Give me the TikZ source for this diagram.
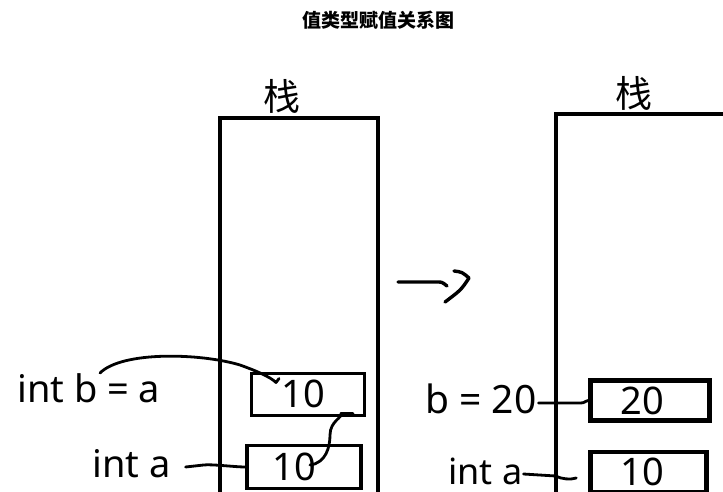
\documentclass[tikz,border=0pt]{standalone}
\usepackage{fontspec}
\setmainfont{Noto Sans}
\newfontfamily\cjk{Noto Sans CJK SC}
\begin{document}
\begin{tikzpicture}[x=1pt,y=-1pt,
  stackline/.style={line width=3.8pt},
  cell/.style={draw, line width=3.8pt, inner sep=0pt, text depth=0pt, font=\fontsize{38}{40}\selectfont},
  lbl/.style={inner sep=0pt, text depth=0pt, anchor=base west, font=\fontsize{38}{40}\selectfont},
  stacklbl/.style={inner sep=0pt, font=\cjk\fontsize{37}{40}\selectfont},
  hand/.style={line width=2.8pt, line cap=round, line join=round}]
\useasboundingbox (0,0) rectangle (723,492);
% title
\node[inner sep=0pt, font=\cjk\bfseries\fontsize{19}{20}\selectfont] (title) at (378,20) {值类型赋值关系图};
% stacks
\coordinate (L1) at (220,500);
\coordinate (L2) at (220,118);
\coordinate (L3) at (378,118);
\coordinate (L4) at (378,500);
\draw[stackline] (L1) -- (L2) -- (L3) -- (L4);
\coordinate (R1) at (556,500);
\coordinate (R2) at (556,114);
\coordinate (R3) at (740,114);
\draw[stackline] (R1) -- (R2) -- (R3);
\node[stacklbl] (s1) at (282,96) {栈};
\node[stacklbl] (s2) at (634,93) {栈};
% left cells
\node[cell, line width=3pt, minimum width=113pt, minimum height=42pt] (A2) at (308,394) {\hspace*{-10pt}10};
\node[cell, minimum width=114pt, minimum height=43pt] (A1) at (304,467) {\hspace*{-20pt}10};
% right cells
\node[cell, line width=4.5pt, minimum width=119pt, minimum height=40pt] (B2) at (650,400.5) {\hspace*{-16pt}20};
\node[cell, line width=4.5pt, minimum width=116pt, minimum height=40pt] (B1) at (648.5,472) {\hspace*{-12pt}10};
% labels
\node[lbl] (intb) at (17,402) {int b = a};
\node[lbl] (inta) at (92,477) {int a};
\node[lbl, font=\fontsize{39}{40}\selectfont] (b20) at (425,413) {b = 20};
\node[lbl, font=\fontsize{36}{40}\selectfont] (inta2) at (448,484) {int a};
% connectors left
\draw[hand] ([shift={(15,-10)}]inta.base east) -- ++(18,-2)
  .. controls +(8,-1) and +(-10,0) .. (A1.west);
\draw[hand] ([shift={(83,-29)}]intb.base west)
  .. controls +(22,-22) and +(-40,-12) .. ++(140,-8)
  .. controls +(14,5) and +(-6,-6) .. ([shift={(26,11)}]A2.north west)
  -- ++(3,-4);
\draw[hand] ([shift={(6,-2)}]A1.center)
  .. controls +(16,-2) and +(0,12) .. ++(20,-30)
  .. controls +(0,-14) and +(2,4) .. ([shift={(-25,-3)}]A2.south east)
  -- ++(12,0);
% connectors right
\draw[hand] ([shift={(2,-10)}]b20.base east) -- ++(42,0)
  .. controls +(4,0) and +(-4,1) .. (B2.west);
\draw[hand] ([shift={(1,-10)}]inta2.base east) -- ++(32,2)
  .. controls +(6,3) and +(-6,2) .. ([shift={(-12,6)}]B1.west);
% middle arrow
\coordinate (m0) at (398,282);
\draw[hand, line width=3.4pt] (m0) -- ++(39,0) .. controls +(5,0) .. ++(10,4);
\draw[hand, line width=3.4pt] ([shift={(56,-11)}]m0)
  .. controls +(8,1) .. ([shift={(71,-4)}]m0)
  .. controls +(-8,12) .. ([shift={(47,20)}]m0);
\end{tikzpicture}
\end{document}
